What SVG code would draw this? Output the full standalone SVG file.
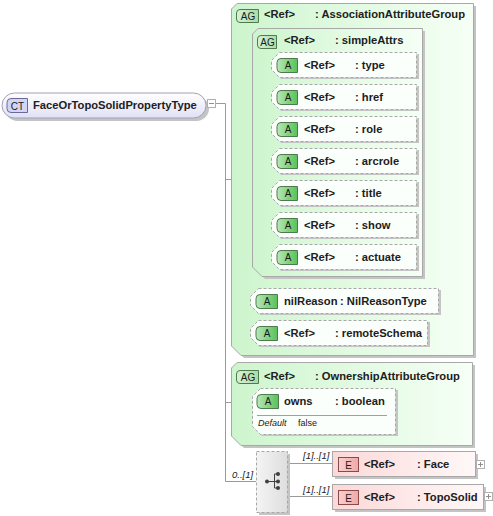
<svg xmlns="http://www.w3.org/2000/svg" width="493" height="516" viewBox="0 0 493 516">
<defs>
<linearGradient id="gGroup" x1="0" y1="0" x2="1" y2="0">
<stop offset="0" stop-color="#cdf5cd"/><stop offset="1" stop-color="#f6fff6"/>
</linearGradient>
<linearGradient id="gBadgeA" x1="0" y1="0" x2="1" y2="0">
<stop offset="0" stop-color="#b8e8b8"/><stop offset="1" stop-color="#58c058"/>
</linearGradient>
<linearGradient id="gBadgeAG" x1="0" y1="0" x2="1" y2="0">
<stop offset="0" stop-color="#d8f2d8"/><stop offset="1" stop-color="#a8dca8"/>
</linearGradient>
<linearGradient id="gCT" x1="0" y1="0" x2="0" y2="1">
<stop offset="0" stop-color="#ffffff"/><stop offset="1" stop-color="#e0e0f6"/>
</linearGradient>
<linearGradient id="gEl" x1="0" y1="0" x2="1" y2="0">
<stop offset="0" stop-color="#fcd8d8"/><stop offset="1" stop-color="#fff8f8"/>
</linearGradient>
<linearGradient id="gE" x1="0" y1="0" x2="1" y2="0">
<stop offset="0" stop-color="#fad0d0"/><stop offset="1" stop-color="#f0a8a8"/>
</linearGradient>
<linearGradient id="gChoice" x1="0" y1="0" x2="1" y2="0">
<stop offset="0" stop-color="#f4f4f4"/><stop offset="1" stop-color="#dedede"/>
</linearGradient>
</defs>
<style>
text{font-family:"Liberation Sans",Arial,sans-serif;font-size:11.2px;font-weight:bold;fill:#202020}
.it{font-style:italic;font-weight:normal;font-size:9.5px}
.sh{fill:#c4c4c4;stroke:none}
.grp{fill:url(#gGroup);stroke:#a8a8a8;stroke-width:1}
.att{fill:#fbfffb;stroke:#a8a8a8;stroke-width:1;stroke-dasharray:3,2}
.bA{fill:url(#gBadgeA);stroke:#4e7a4e;stroke-width:1}
.bAG{fill:url(#gBadgeAG);stroke:#4e7a4e;stroke-width:1}
.bt{font-weight:normal;font-size:10px;text-anchor:middle;fill:#1a1a1a}
.ln{fill:none;stroke:#9a9a9a;stroke-width:1}
.el{fill:url(#gEl);stroke:#a8a8a8;stroke-width:1}
.pm{fill:#ffffff;stroke:#b0b0b0;stroke-width:1}
</style>

<g id="connectors">
<path class="ln" d="M215,103.5H225.5V481.5H256"/>
<path class="ln" d="M225.5,179.5H242.5"/>
<path class="ln" d="M242.5,164.5V332.5H250 M242.5,300.5H250 M242.5,164.5H262.5"/>
<path class="ln" d="M262.5,64.5V256.5H271 M262.5,64.5H271 M262.5,96.5H271 M262.5,128.5H271 M262.5,160.5H271 M262.5,192.5H271 M262.5,224.5H271"/>
<path class="ln" d="M225.5,402.5H252"/>
<path class="ln" d="M287,463.5H332 M287,496.5H332"/>
</g>

<g id="ct">
<rect class="sh" x="5" y="96" width="204" height="25" rx="12.5"/>
<rect x="2" y="93" width="204" height="25" rx="12.5" fill="url(#gCT)" stroke="#a0a0b8"/>
<path d="M11,98.5H27.5V112.5H11Q7,112.5 7,108.5V102.5Q7,98.5 11,98.5Z" fill="#d4d4f4" stroke="#6a6a98"/>
<text class="bt" x="17.5" y="109.5">CT</text>
<text x="33" y="109">FaceOrTopoSolidPropertyType</text>
<rect class="pm" x="207.5" y="99.5" width="8" height="8"/>
<path d="M209,103.5H214" stroke="#909090"/>
</g>

<g id="assocGroup">
<path class="sh" d="M240,6H476V358H244L234,348V12Z"/>
<path class="grp" d="M237,3.5H473.5V355.5H241L231.5,346V9Z"/>
<path class="bAG" d="M240,9.5H258.5V22.5H240Q236.5,22.5 236.5,19V13Q236.5,9.5 240,9.5Z"/>
<text class="bt" x="248" y="20">AG</text>
<text x="264" y="18">&lt;Ref&gt;</text>
<text x="315" y="18">: AssociationAttributeGroup</text>
</g>

<g id="simpleAttrs">
<path class="sh" d="M261,31H425V279H265L255,269V37Z"/>
<path class="grp" d="M258,28.5H422.5V276.5H262L252.5,267V34Z"/>
<path class="bAG" d="M261,35.5H276.5V48.5H261Q257.5,48.5 257.5,45V39Q257.5,35.5 261,35.5Z"/>
<text class="bt" x="267.5" y="46">AG</text>
<text x="284" y="44">&lt;Ref&gt;</text>
<text x="335" y="44">: simpleAttrs</text>
</g>

<g id="attr-type">
<path class="sh" d="M281,54H419V79H281L273,71V62Z"/>
<path class="att" d="M279.5,52.5H416.5V77.5H279.5L271.5,69.5V60.5Z"/>
<path class="bA" d="M281,58.5H297.5V72.5H281Q277,72.5 277,68.5V62.5Q277,58.5 281,58.5Z"/>
<text class="bt" x="288" y="69">A</text>
<text x="304" y="69">&lt;Ref&gt;</text>
<text x="355" y="69">: type</text>
</g>
<g id="attr-href">
<path class="sh" d="M281,86H419V111H281L273,103V94Z"/>
<path class="att" d="M279.5,84.5H416.5V109.5H279.5L271.5,101.5V92.5Z"/>
<path class="bA" d="M281,90.5H297.5V104.5H281Q277,104.5 277,100.5V94.5Q277,90.5 281,90.5Z"/>
<text class="bt" x="288" y="101">A</text>
<text x="304" y="101">&lt;Ref&gt;</text>
<text x="355" y="101">: href</text>
</g>
<g id="attr-role">
<path class="sh" d="M281,118H419V143H281L273,135V126Z"/>
<path class="att" d="M279.5,116.5H416.5V141.5H279.5L271.5,133.5V124.5Z"/>
<path class="bA" d="M281,122.5H297.5V136.5H281Q277,136.5 277,132.5V126.5Q277,122.5 281,122.5Z"/>
<text class="bt" x="288" y="133">A</text>
<text x="304" y="133">&lt;Ref&gt;</text>
<text x="355" y="133">: role</text>
</g>
<g id="attr-arcrole">
<path class="sh" d="M281,150H419V175H281L273,167V158Z"/>
<path class="att" d="M279.5,148.5H416.5V173.5H279.5L271.5,165.5V156.5Z"/>
<path class="bA" d="M281,154.5H297.5V168.5H281Q277,168.5 277,164.5V158.5Q277,154.5 281,154.5Z"/>
<text class="bt" x="288" y="165">A</text>
<text x="304" y="165">&lt;Ref&gt;</text>
<text x="355" y="165">: arcrole</text>
</g>
<g id="attr-title">
<path class="sh" d="M281,182H419V207H281L273,199V190Z"/>
<path class="att" d="M279.5,180.5H416.5V205.5H279.5L271.5,197.5V188.5Z"/>
<path class="bA" d="M281,186.5H297.5V200.5H281Q277,200.5 277,196.5V190.5Q277,186.5 281,186.5Z"/>
<text class="bt" x="288" y="197">A</text>
<text x="304" y="197">&lt;Ref&gt;</text>
<text x="355" y="197">: title</text>
</g>
<g id="attr-show">
<path class="sh" d="M281,214H419V239H281L273,231V222Z"/>
<path class="att" d="M279.5,212.5H416.5V237.5H279.5L271.5,229.5V220.5Z"/>
<path class="bA" d="M281,218.5H297.5V232.5H281Q277,232.5 277,228.5V222.5Q277,218.5 281,218.5Z"/>
<text class="bt" x="288" y="229">A</text>
<text x="304" y="229">&lt;Ref&gt;</text>
<text x="355" y="229">: show</text>
</g>
<g id="attr-actuate">
<path class="sh" d="M281,246H419V271H281L273,263V254Z"/>
<path class="att" d="M279.5,244.5H416.5V269.5H279.5L271.5,261.5V252.5Z"/>
<path class="bA" d="M281,250.5H297.5V264.5H281Q277,264.5 277,260.5V254.5Q277,250.5 281,250.5Z"/>
<text class="bt" x="288" y="261">A</text>
<text x="304" y="261">&lt;Ref&gt;</text>
<text x="355" y="261">: actuate</text>
</g>

<g id="attr-nilReason">
<path class="sh" d="M260,290H441V315H260L252,307V298Z"/>
<path class="att" d="M258.5,288.5H438.5V313.5H258.5L250.5,305.5V296.5Z"/>
<path class="bA" d="M260,294.5H277.5V308.5H260Q256,308.5 256,304.5V298.5Q256,294.5 260,294.5Z"/>
<text class="bt" x="267" y="305">A</text>
<text x="284" y="305">nilReason</text>
<text x="340" y="305">: NilReasonType</text>
</g>
<g id="attr-remoteSchema">
<path class="sh" d="M260,322H430V347H260L252,339V330Z"/>
<path class="att" d="M258.5,320.5H427.5V345.5H258.5L250.5,337.5V328.5Z"/>
<path class="bA" d="M260,326.5H277.5V340.5H260Q256,340.5 256,336.5V330.5Q256,326.5 260,326.5Z"/>
<text class="bt" x="267" y="337">A</text>
<text x="284" y="337">&lt;Ref&gt;</text>
<text x="335" y="337">: remoteSchema</text>
</g>

<g id="ownershipGroup">
<path class="sh" d="M240,365H475V448H244L234,438V371Z"/>
<path class="grp" d="M237,362.5H472.5V445.5H241L231.5,436V368Z"/>
<path class="bAG" d="M240,370.5H258.5V383.5H240Q236.5,383.5 236.5,380V374Q236.5,370.5 240,370.5Z"/>
<text class="bt" x="248" y="381">AG</text>
<text x="264" y="380">&lt;Ref&gt;</text>
<text x="315" y="380">: OwnershipAttributeGroup</text>
</g>
<g id="attr-owns">
<path class="sh" d="M262,390H398V436H262L254,428V398Z"/>
<path class="att" d="M260.5,388.5H395.5V434.5H260.5L252.5,426.5V396.5Z"/>
<path class="bA" d="M261,394.5H278.5V408.5H261Q257,408.5 257,404.5V398.5Q257,394.5 261,394.5Z"/>
<text class="bt" x="268" y="405">A</text>
<text x="284" y="405">owns</text>
<text x="335" y="405">: boolean</text>
<path d="M257,415.5H387" stroke="#a0a0a0"/>
<text class="it" x="258" y="426" style="font-size:9px">Default</text>
<text x="298" y="426" style="font-size:9px;font-weight:normal">false</text>
</g>

<g id="choice">
<rect class="sh" x="259" y="454" width="31" height="61"/>
<rect x="256.5" y="451.5" width="31" height="61" fill="url(#gChoice)" stroke="#a8a8a8" stroke-dasharray="3,2"/>
<circle cx="267" cy="481.5" r="2" fill="#404040"/>
<path d="M267,481.5H278 M274.5,474V488 M274.5,474H278 M274.5,488H278" stroke="#404040" fill="none"/>
<circle cx="278" cy="474" r="2" fill="#404040"/>
<circle cx="278" cy="481.5" r="2" fill="#404040"/>
<circle cx="278" cy="488" r="2" fill="#404040"/>
<text class="it" x="232" y="478">0..[1]</text>
</g>

<g id="el-face">
<text class="it" x="303" y="459">[1]..[1]</text>
<rect class="sh" x="335" y="454" width="143" height="25"/>
<rect class="el" x="332.5" y="451.5" width="143" height="25"/>
<rect x="338.5" y="457.5" width="20" height="14" fill="url(#gE)" stroke="#8a4a4a"/>
<text class="bt" x="348.5" y="468.5">E</text>
<text x="364" y="468">&lt;Ref&gt;</text>
<text x="417" y="468">: Face</text>
<rect class="pm" x="476.5" y="460.5" width="8" height="8"/>
<path d="M478,464.5H483 M480.5,462V467" stroke="#909090"/>
</g>
<g id="el-topoSolid">
<text class="it" x="303" y="493">[1]..[1]</text>
<rect class="sh" x="335" y="487" width="151" height="25"/>
<rect class="el" x="332.5" y="484.5" width="151" height="25"/>
<rect x="338.5" y="490.5" width="20" height="14" fill="url(#gE)" stroke="#8a4a4a"/>
<text class="bt" x="348.5" y="501.5">E</text>
<text x="364" y="501">&lt;Ref&gt;</text>
<text x="417" y="501">: TopoSolid</text>
<rect class="pm" x="484.5" y="492.5" width="8" height="8"/>
<path d="M486,496.5H491 M488.5,494V499" stroke="#909090"/>
</g>
</svg>
